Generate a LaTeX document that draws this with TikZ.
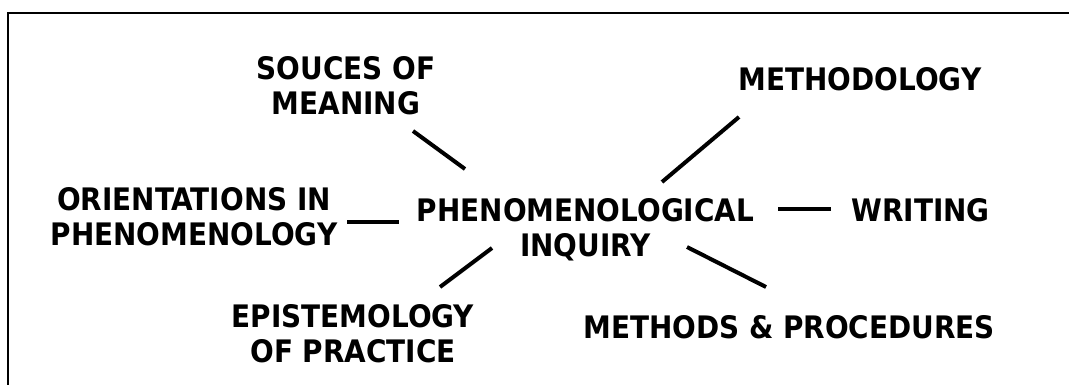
\documentclass[tikz,border=0pt]{standalone}
\usepackage{fontspec}
\setmainfont{DejaVu Sans Condensed}
\begin{document}
\begin{tikzpicture}[x=1pt,y=-1pt,
  lbl/.style={inner sep=0pt,align=center,font=\fontsize{31}{35}\selectfont\bfseries},
  link/.style={line width=4pt,line cap=butt},
  frame/.style={line width=2pt}]
\useasboundingbox (0,0) rectangle (1069,385);
\draw[frame] (1069,13) -- (8,13) -- (8,385);
\node[lbl] (ctr) at (585.5,229.5) {PHENOMENOLOGICAL\\INQUIRY};
\node[lbl] (src) at (346,85.5) {SOUCES OF\\MEANING};
\node[lbl] (ori) at (194,216.5) {ORIENTATIONS IN\\PHENOMENOLOGY};
\node[lbl] (epi) at (353,333.5) {EPISTEMOLOGY\\OF PRACTICE};
\node[lbl] (met) at (860,79.5) {METHODOLOGY};
\node[lbl] (wri) at (920.5,210) {WRITING};
\node[lbl] (pro) at (789,327.5) {METHODS \& PROCEDURES};
\draw[link] ([shift={(67,45.5)}]src.center) -- ([shift={(-120.5,-60.5)}]ctr.center);
\draw[link] ([shift={(153,5.5)}]ori.center) -- ([shift={(-186.5,-7.5)}]ctr.center);
\draw[link] ([shift={(-121,37.5)}]met.center) -- ([shift={(76.5,-47.5)}]ctr.center);
\draw[link] ([shift={(-89.5,-1)}]wri.center) -- ([shift={(192.5,-20.5)}]ctr.center);
\draw[link] ([shift={(-23,-40.5)}]pro.center) -- ([shift={(101.5,17.5)}]ctr.center);
\draw[link] ([shift={(87,-46.5)}]epi.center) -- ([shift={(-93.5,18.5)}]ctr.center);
\end{tikzpicture}
\end{document}
